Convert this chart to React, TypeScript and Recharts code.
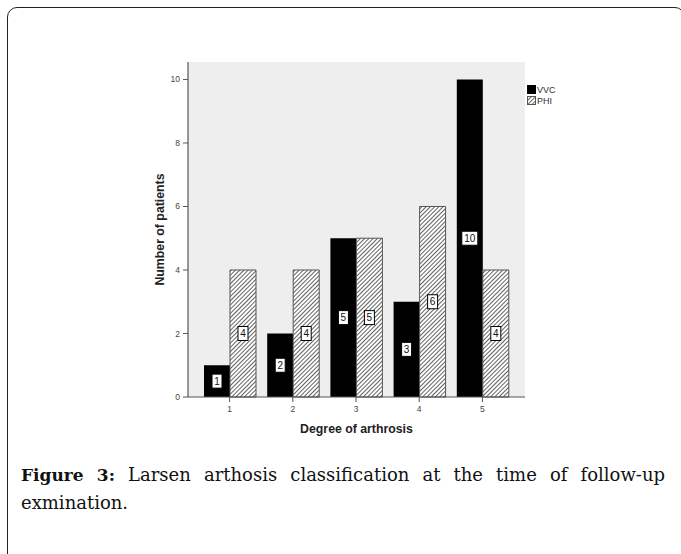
import React from "react";
import { BarChart, Bar, XAxis, YAxis, CartesianGrid, LabelList } from "recharts";

const categories = ["1", "2", "3", "4", "5"];
const vvcValues = [1, 2, 5, 3, 10];
const phiValues = [4, 4, 5, 6, 4];
const yTicks = [0, 2, 4, 6, 8, 10];
const seriesNames = ["VVC", "PHI"];

const data = categories.map((c, i) => ({ degree: c, VVC: vvcValues[i], PHI: phiValues[i] }));

const BoxLabel = (props: any) => {
  const { x, y, width, height, value } = props;
  const cx = x + width / 2;
  const cy = y + height / 2;
  const s = String(value);
  const w = s.length > 1 ? 16 : 10;
  return (
    <g>
      <rect x={cx - w / 2} y={cy - 7} width={w} height={14} fill="#fff" stroke="#000" strokeWidth={1} />
      <text x={cx} y={cy + 3.5} textAnchor="middle" fontSize={10} fontFamily="Arial, Liberation Sans, sans-serif" fill="#111">
        {s}
      </text>
    </g>
  );
};

const tickStyle = { fontSize: 8.5, fill: "#444", fontFamily: "Arial, Liberation Sans, sans-serif" };
const axisLabelStyle = { fontSize: 12.3, fontWeight: "bold", fill: "#222", fontFamily: "Arial, Liberation Sans, sans-serif" };

export default function App() {
  return (
    <div style={{ position: "absolute", left: 0, top: 0, width: 681, height: 554, background: "#fff", overflow: "hidden" }}>
      <div
        style={{
          position: "absolute",
          left: 7,
          top: 7,
          width: 678,
          height: 560,
          border: "1.5px solid #222",
          borderRadius: 10,
          boxSizing: "border-box",
        }}
      />
      <div style={{ position: "absolute", left: 0, top: 0 }}>
        <BarChart
          width={681}
          height={554}
          data={data}
          margin={{ top: 62, right: 156, bottom: 127, left: 148 }}
          barSize={26}
          barGap={0}
        >
          <defs>
            <pattern id="hatch" patternUnits="userSpaceOnUse" width="3" height="3" patternTransform="rotate(45)">
              <rect width="3" height="3" fill="#fff" />
              <line x1="0" y1="0" x2="0" y2="3" stroke="#3a3a3a" strokeWidth="1.6" />
            </pattern>
          </defs>
          <CartesianGrid fill="#eeeeee" horizontal={false} vertical={false} />
          <XAxis
            dataKey="degree"
            padding={{ left: 10, right: 11 }}
            height={30}
            stroke="#555"
            tickSize={5}
            tickMargin={4}
            tick={tickStyle}
            tickLine={{ stroke: "#555" }}
            axisLine={{ stroke: "#555", strokeWidth: 1.2 }}
            label={{
              value: "Degree of arthrosis",
              position: "insideBottom",
              offset: -6,
              style: axisLabelStyle,
            }}
          />
          <XAxis xAxisId="top" dataKey="degree" orientation="top" tick={false} tickLine={false} height={0} axisLine={{ stroke: "#666", strokeWidth: 1.2 }} />
          <YAxis
            domain={[0, 10.55]}
            ticks={yTicks}
            width={40}
            tickSize={5}
            tickMargin={3}
            tick={tickStyle}
            tickLine={{ stroke: "#555" }}
            axisLine={{ stroke: "#555", strokeWidth: 1.2 }}
            label={{
              value: "Number of patients",
              angle: -90,
              position: "insideLeft",
              offset: 12,
              style: { ...axisLabelStyle, textAnchor: "middle" },
            }}
          />
          <YAxis yAxisId="right" orientation="right" width={0} tick={false} tickLine={false} axisLine={{ stroke: "#666", strokeWidth: 1.2 }} />
          <Bar dataKey="VVC" name={seriesNames[0]} fill="#000" isAnimationActive={false}>
            <LabelList dataKey="VVC" content={BoxLabel} />
          </Bar>
          <Bar dataKey="PHI" name={seriesNames[1]} fill="url(#hatch)" stroke="#555" strokeWidth={1} isAnimationActive={false}>
            <LabelList dataKey="PHI" content={BoxLabel} />
          </Bar>
        </BarChart>
      </div>
      <div style={{ position: "absolute", left: 527, top: 84, fontFamily: "Arial, Liberation Sans, sans-serif", fontSize: 9, color: "#333" }}>
        <div style={{ display: "flex", alignItems: "center", height: 11 }}>
          <svg width={9} height={9} style={{ marginRight: 1 }}>
            <rect x={0} y={0} width={9} height={9} fill="#000" />
          </svg>
          <span>{seriesNames[0]}</span>
        </div>
        <div style={{ display: "flex", alignItems: "center", height: 11 }}>
          <svg width={9} height={9} style={{ marginRight: 1 }}>
            <defs>
              <pattern id="hatchL" patternUnits="userSpaceOnUse" width="3" height="3" patternTransform="rotate(45)">
                <rect width="3" height="3" fill="#fff" />
                <line x1="0" y1="0" x2="0" y2="3" stroke="#3a3a3a" strokeWidth="1.5" />
              </pattern>
            </defs>
            <rect x={0.5} y={0.5} width={8} height={8} fill="url(#hatchL)" stroke="#555" />
          </svg>
          <span>{seriesNames[1]}</span>
        </div>
      </div>
      <div
        style={{
          position: "absolute",
          left: 21,
          top: 461,
          width: 644,
          fontFamily: "'DejaVu Serif', serif",
          fontSize: 18,
          lineHeight: "28px",
          color: "#111",
        }}
      >
        <div style={{ textAlign: "justify", textAlignLast: "justify" as any }}>
          <b style={{ fontSize: 17 }}>Figure 3:</b> Larsen arthosis classification at the time of follow-up
        </div>
        <div>exmination.</div>
      </div>
    </div>
  );
}
